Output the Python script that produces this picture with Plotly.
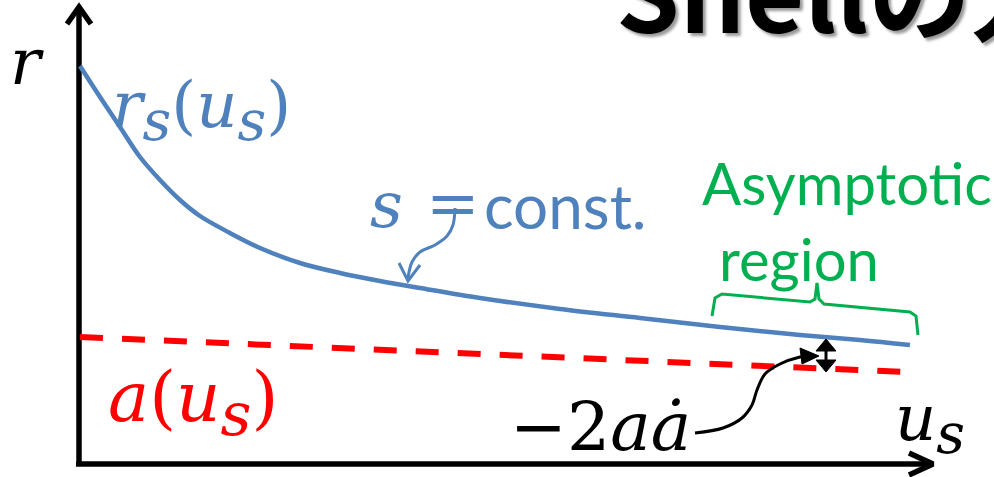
import plotly.graph_objects as go

# ---- data ---------------------------------------------------------------
# shell trajectory r_s(u_s) (screen units, r grows upward = smaller value)
u_shell = [80, 100, 120, 140, 160, 180, 200, 230, 260, 300, 340, 380, 420,
           480, 560, 640, 720, 800, 860, 910]
r_shell = [66, 97, 127, 157, 180, 200, 216, 233, 248, 263, 273, 281, 288,
           298, 309, 318, 327, 335, 340, 345]

# apparent horizon a(u_s)
u_horizon = [80, 905]
r_horizon = [337, 372]

# frame
W, H = 994, 477
x0, y0 = 79, 464          # origin of the r-u_s frame
x_end, y_top = 933, 7     # arrow tips

BLUE = "#4F81BD"
RED = "#FF0000"
GREEN = "#00B050"
BLACK = "#000000"

MATH = "DejaVu Serif"
SANS = "Lato"

fig = go.Figure()


def line(xs, ys, color, width, dash=None, shape="linear", fill=None):
    fig.add_trace(go.Scatter(
        x=xs, y=ys, mode="lines",
        line=dict(color=color, width=width, dash=dash, shape=shape,
                  smoothing=1.0 if shape == "spline" else None),
        fill=fill, fillcolor=color if fill else None,
        hoverinfo="skip"))


# axes
line([x0, x0], [y0, y_top + 3], BLACK, 5.5)
line([x0 - 12, x0, x0 + 12], [y_top + 17, y_top, y_top + 17], BLACK, 5.5)
line([x0 - 3, x_end - 4], [y0, y0], BLACK, 5.5)
line([x_end - 24, x_end, x_end - 24], [y0 - 11, y0, y0 + 11], BLACK, 5.5)

# curves
line(u_horizon, r_horizon, RED, 6, dash="23px,19px")
line(u_shell, r_shell, BLUE, 4.5, shape="spline")

# pointer from "s = const." to the curve
line([455, 453, 447, 435, 420, 412, 409, 408],
     [208, 225, 236, 245, 252, 262, 272, 279], BLUE, 3, shape="spline")
line([399, 408, 420], [263, 281, 265], BLUE, 3)

# asymptotic-region brace
line([712, 715, 722, 810, 815, 817, 819, 824, 910, 916, 918],
     [316, 298, 294, 302, 299, 283, 299, 304, 312, 316, 335], GREEN, 3)

# -2 a adot separation marker
line([826, 826], [346, 365], BLACK, 3)
line([816, 826, 836, 816], [351, 339, 351, 351], BLACK, 1, fill="toself")
line([816, 826, 836, 816], [360, 372, 360, 360], BLACK, 1, fill="toself")

# pointer from "-2 a adot" to the marker
line([695, 723, 742, 752, 757, 765, 780, 800, 808],
     [433, 428, 418, 405, 390, 374, 364, 357, 356], BLACK, 3, shape="spline")
line([800, 819, 802, 800], [348, 356, 364, 348], BLACK, 1, fill="toself")


def label(text, x, y, color, size, family, anchor="left", weight=None,
          shadow=None, yshift=0):
    fig.add_annotation(
        x=x, y=y, text=text, showarrow=False, xanchor=anchor,
        yanchor="middle", yshift=yshift,
        font=dict(color=color, size=size, family=family, weight=weight,
                  shadow=shadow))


SUB_S = '<sub><span style="font-size:125%">s</span></sub>'

label("<i>r</i>", 8, 62, BLACK, 64, MATH)
label(f"<i>r{SUB_S}</i>(<i>u{SUB_S}</i>)", 110, 110, BLUE, 64, MATH)
label("<i>s</i>", 368, 205, BLUE, 64, MATH)
label("=", 424, 203, BLUE, 64, MATH)
label("const.", 482, 205, BLUE, 62, SANS)
label("Asymptotic", 700, 182, GREEN, 58, SANS)
label("region", 717, 258, GREEN, 58, SANS)
label(f"<i>a</i>(<i>u{SUB_S}</i>)", 106, 403, RED, 69, MATH)
label("\u22122<i>a\u0227</i>", 508, 426, BLACK, 68, MATH)
label(f"<i>u{SUB_S}</i>", 893, 423, BLACK, 64, MATH)

# heading, cut by the top edge
label("Shell\u306e\u65b9\u7a0b\u5f0f", 614, 0, BLACK, 102,
      "Noto Sans CJK JP", weight=700, shadow="3px 3px 3px #999", yshift=12)

fig.update_layout(
    width=W, height=H,
    margin=dict(l=0, r=0, t=0, b=0),
    paper_bgcolor="white", plot_bgcolor="white",
    showlegend=False,
    xaxis=dict(range=[0, W], visible=False, fixedrange=True),
    yaxis=dict(range=[H, 0], visible=False, fixedrange=True),
)

fig.write_html("out.html")
